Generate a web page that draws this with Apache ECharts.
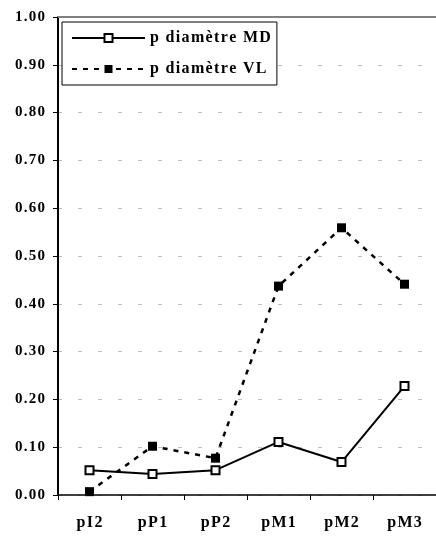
<!DOCTYPE html>
<html><head><meta charset="utf-8">
<script src="https://cdn.jsdelivr.net/npm/echarts@6/dist/echarts.min.js"></script>
<style>html,body{margin:0;padding:0;background:#fff}#c{width:436px;height:536px}</style>
</head><body><div id="c"></div>
<script>
const categories = ['pI2', 'pP1', 'pP2', 'pM1', 'pM2', 'pM3'];
const seriesMD = [0.052, 0.044, 0.052, 0.111, 0.069, 0.228];
const seriesVL = [0.007, 0.102, 0.077, 0.437, 0.559, 0.441];
const nameMD = 'p diamètre MD';
const nameVL = 'p diamètre VL';
const yTicks = { min: 0, max: 1, interval: 0.1 };

const font = 'Liberation Serif, DejaVu Serif, serif';
const spaced = s => s.split('').join('\u200A');
const chart = echarts.init(document.getElementById('c'));
chart.setOption({
  animation: false,
  grid: { left: 58, right: -4, top: 17, bottom: 41, containLabel: false },
  legend: {
    orient: 'vertical', left: 62, top: 22,
    backgroundColor: '#fff',
    borderColor: '#000', borderWidth: 1,
    padding: [8, 6, 8, 9],
    itemGap: 15,
    itemWidth: 73, itemHeight: 10,
    textStyle: { fontFamily: font, fontWeight: 'bold', fontSize: 16, color: '#000' },
    formatter: name => spaced(name),
    data: [nameMD, nameVL]
  },
  xAxis: [{
    type: 'category', data: categories, boundaryGap: true,
    axisLine: { lineStyle: { color: '#000', width: 1.5 } },
    axisTick: { show: true, length: 5, lineStyle: { color: '#000' } },
    axisLabel: { fontFamily: font, fontWeight: 'bold', fontSize: 16, color: '#000', margin: 20,
      formatter: v => spaced(v) },
    splitLine: { show: false }
  }, {
    type: 'category', data: categories, position: 'top',
    axisLine: { lineStyle: { color: '#808080', width: 2 } },
    axisTick: { show: false }, axisLabel: { show: false }
  }],
  yAxis: {
    type: 'value', min: yTicks.min, max: yTicks.max, interval: yTicks.interval,
    axisLine: { show: true, lineStyle: { color: '#000', width: 2 } },
    axisTick: { show: true, length: 5, lineStyle: { color: '#000' } },
    axisLabel: { fontFamily: font, fontWeight: 'bold', fontSize: 15, color: '#000', margin: 13,
      formatter: v => spaced(v.toFixed(2)) },
    splitLine: { show: true, lineStyle: { color: '#c0c0c0', width: 1, type: [4, 16] } }
  },
  series: [{
    name: nameMD, type: 'line', data: seriesMD,
    symbol: 'rect', symbolSize: 8,
    lineStyle: { color: '#000', width: 2 },
    itemStyle: { color: '#fff', borderColor: '#000', borderWidth: 2 }
  }, {
    name: nameVL, type: 'line', data: seriesVL,
    symbol: 'rect', symbolSize: 9,
    lineStyle: { color: '#000', width: 2.5, type: [5, 6] },
    itemStyle: { color: '#000', borderColor: '#000', borderWidth: 0 }
  }]
});
</script></body></html>
